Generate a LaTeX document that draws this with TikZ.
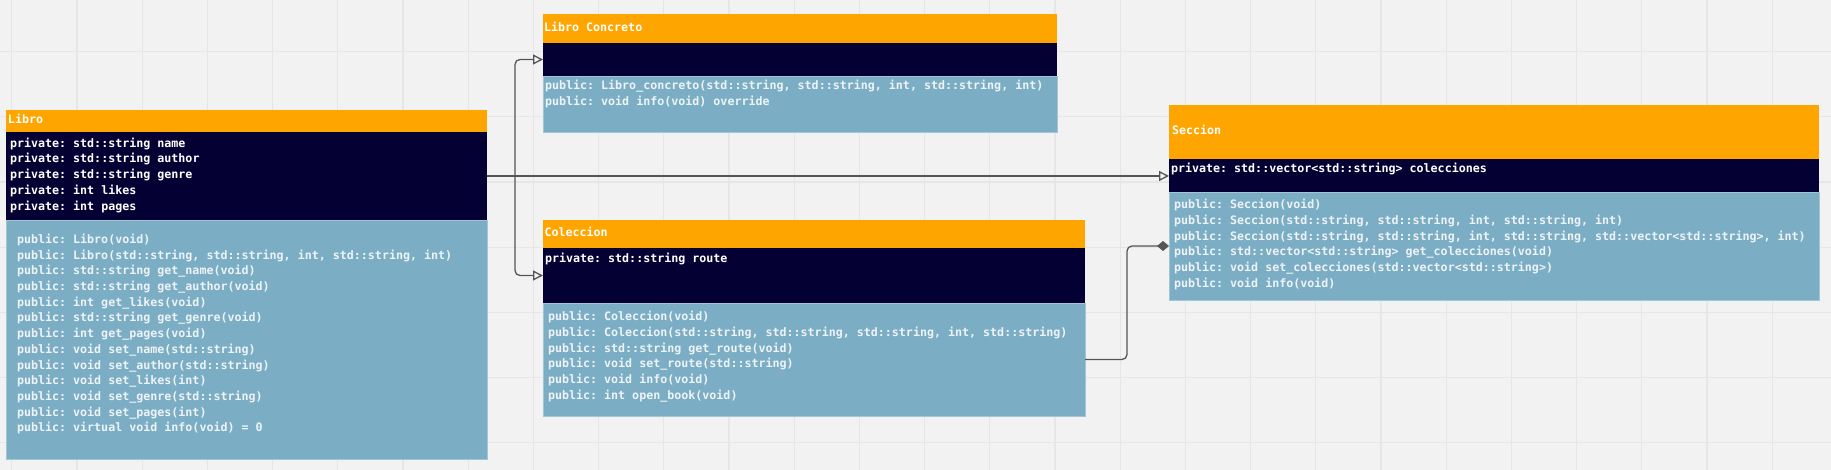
\documentclass[tikz,border=0pt]{standalone}
\usepackage{fontspec}
\usepackage{tikz}
\usetikzlibrary{arrows.meta}
\setmonofont{DejaVu Sans Mono}

\definecolor{hdorange}{HTML}{FFA500}
\definecolor{attrnavy}{HTML}{050033}
\definecolor{opsblue}{HTML}{7BAEC4}
\definecolor{boardbg}{HTML}{F2F2F2}
\definecolor{boardline}{HTML}{E6E6E6}
\definecolor{wiregray}{HTML}{555555}
\definecolor{opstext}{HTML}{EEF3F7}

\newcommand{\codefont}{\ttfamily\bfseries\fontsize{11.66pt}{14pt}\selectfont}

\begin{document}
\begin{tikzpicture}[x=1pt, y=-1pt,
	every node/.style={inner sep=0pt, outer sep=0pt},
	head/.style={rectangle, fill=hdorange, anchor=north west},
	attrbox/.style={rectangle, fill=attrnavy, anchor=north west},
	opsbox/.style={rectangle, fill=opsblue, draw=opsblue!70!white, line width=0.8pt, anchor=north west},
	txt/.style={anchor=west, text height=8pt, text depth=2.5pt, font=\codefont, text=white},
	optxt/.style={txt, text=opstext},
	gridln/.style={draw=boardline, line width=1.2pt},
	wire/.style={draw=wiregray, line width=1.3pt, rounded corners=5pt},
	inherit/.style={wire, -{Triangle[open, length=10pt, width=10pt]}},
	compose/.style={wire, -{Diamond[length=12pt, width=10pt, fill=wiregray]}}]
				% board
				\useasboundingbox (0,0) rectangle (1831,470);
				\fill[boardbg] (0,0) rectangle (1831,470);
				\foreach \gx in {0,...,27}
					\path[gridln] ({11.8+65.2*\gx},0) -- ({11.8+65.2*\gx},470);
				\foreach \gy in {0,...,6}
					\path[gridln] (0,{51.6+65.2*\gy}) -- (1831,{51.6+65.2*\gy});
				
				% Libro
				\node[head, minimum width=481pt, minimum height=22pt] (libroHead) at (6,110){};
				\node[attrbox, minimum width=481pt, minimum height=88pt] (libroAttr) at (libroHead.south west){};
				\node[opsbox, minimum width=481pt, minimum height=239pt] (libroOps) at (libroAttr.south west){};
				\node[txt] (libroName) at ([xshift=2]libroHead.west){Libro};
				\foreach \entry [count=\i] in {private: std::string name, private: std::string author, private: std::string genre, private: int likes, private: int pages}
					\node[txt] (libroA\i) at ([shift={(4,12.3+15.8*(\i-1))}]libroAttr.north west){\entry};
				\foreach \entry [count=\i] in {public: Libro(void), {public: Libro(std::string, std::string, int, std::string, int)}, public: std::string get\_name(void), public: std::string get\_author(void), public: int get\_likes(void), public: std::string get\_genre(void), public: int get\_pages(void), public: void set\_name(std::string), public: void set\_author(std::string), public: void set\_likes(int), public: void set\_genre(std::string), public: void set\_pages(int), public: virtual void info(void) = 0}
					\node[optxt] (libroO\i) at ([shift={(11,20.7+15.7*(\i-1))}]libroOps.north west){\entry};
				
				% Libro Concreto
				\node[head, minimum width=514pt, minimum height=29pt] (concHead) at (543,14){};
				\node[attrbox, minimum width=514pt, minimum height=33pt] (concAttr) at (concHead.south west){};
				\node[opsbox, minimum width=514pt, minimum height=56pt] (concOps) at (concAttr.south west){};
				\node[txt] (concName) at ([xshift=1]concHead.west){Libro Concreto};
				\foreach \entry [count=\i] in {{public: Libro\_concreto(std::string, std::string, int, std::string, int)}, public: void info(void) override}
					\node[optxt] (concO\i) at ([shift={(2,10.7+15.7*(\i-1))}]concOps.north west){\entry};
				
				% Coleccion
				\node[head, minimum width=542pt, minimum height=28pt] (colHead) at (543,220){};
				\node[attrbox, minimum width=542pt, minimum height=55pt] (colAttr) at (colHead.south west){};
				\node[opsbox, minimum width=542pt, minimum height=113pt] (colOps) at (colAttr.south west){};
				\node[txt] (colName) at ([xshift=1.5]colHead.west){Coleccion};
				\node[txt] (colA1) at ([shift={(2,12)}]colAttr.north west){private: std::string route};
				\foreach \entry [count=\i] in {public: Coleccion(void), {public: Coleccion(std::string, std::string, std::string, int, std::string)}, public: std::string get\_route(void), public: void set\_route(std::string), public: void info(void), public: int open\_book(void)}
					\node[optxt] (colO\i) at ([shift={(5,14.7+15.8*(\i-1))}]colOps.north west){\entry};
				
				% Seccion
				\node[head, minimum width=650pt, minimum height=54pt] (secHead) at (1169,105){};
				\node[attrbox, minimum width=650pt, minimum height=33pt] (secAttr) at (secHead.south west){};
				\node[opsbox, minimum width=650pt, minimum height=108pt] (secOps) at (secAttr.south west){};
				\node[txt] (secName) at ([xshift=3]secHead.west){Seccion};
				\node[txt] (secA1) at ([shift={(2,10.3)}]secAttr.north west){private: std::vector<std::string> colecciones};
				\foreach \entry [count=\i] in {public: Seccion(void), {public: Seccion(std::string, std::string, int, std::string, int)}, {public: Seccion(std::string, std::string, int, std::string, std::vector<std::string>, int)}, public: std::vector<std::string> get\_colecciones(void), public: void set\_colecciones(std::vector<std::string>), public: void info(void)}
					\node[optxt] (secO\i) at ([shift={(5,14+15.7*(\i-1))}]secOps.north west){\entry};
				
				% connectors
				\coordinate (fork) at ([xshift=28]libroAttr.east);
				\path[inherit] (libroAttr.east) -- (libroAttr.east -| secAttr.west);
				\path[inherit] (fork) |- (concAttr.west);
				\path[inherit] (fork) |- (colAttr.west);
				\path[compose] (colOps.east) -- ++(42,0) |- (secOps.west);
\end{tikzpicture}
\end{document}
